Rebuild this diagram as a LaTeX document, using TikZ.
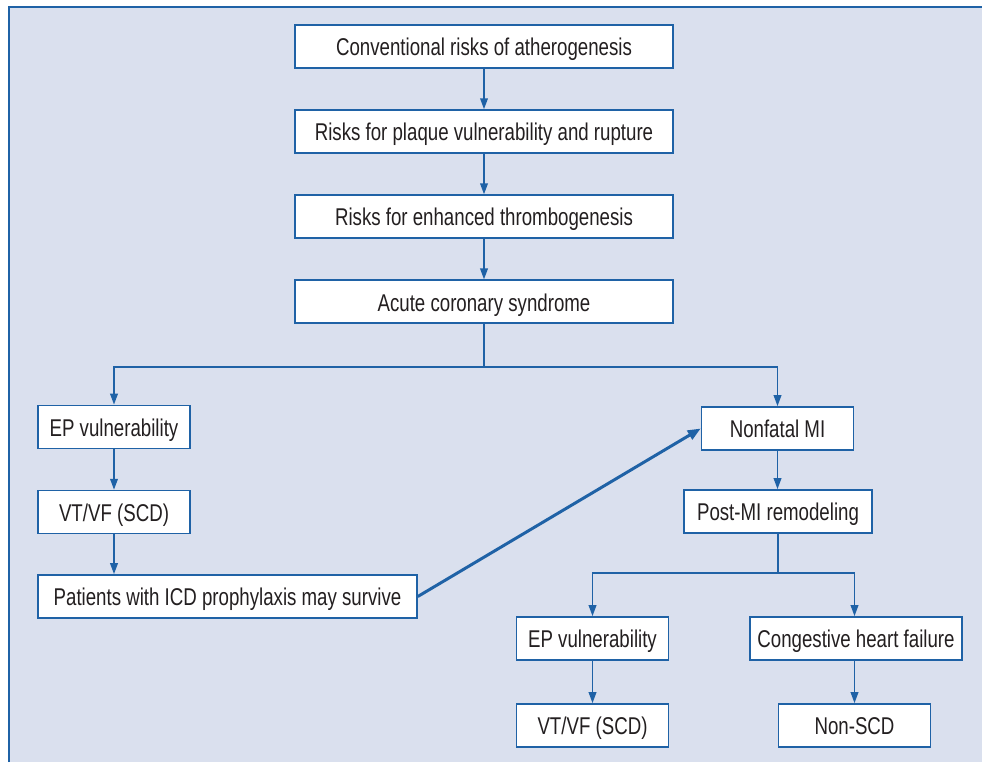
\documentclass[tikz,border=0pt]{standalone}
\usepackage{fontspec}
\setmainfont[FakeStretch=0.77]{Liberation Sans}
\usetikzlibrary{arrows.meta,positioning,calc}

\definecolor{panelblue}{HTML}{DAE0EE}
\definecolor{lineblue}{HTML}{1F62A6}
\definecolor{textgray}{HTML}{231F20}

\begin{document}
\begin{tikzpicture}[
    node distance=8.1mm,
    every node/.style={
        font=\fontsize{13.8}{15}\selectfont,
        text=textgray,
        text height=10.6pt,
        text depth=0pt,
        align=center
    },
    mainbox/.style={
        draw=lineblue,
        fill=white,
        line width=0.9pt,
        minimum width=7.56cm,
        minimum height=0.86cm,
        inner sep=3pt
    },
    stepbox/.style={
        draw=lineblue,
        fill=white,
        line width=0.9pt,
        minimum width=3.04cm,
        minimum height=0.86cm,
        inner sep=3pt
    },
    connector/.style={
        draw=lineblue,
        line width=1.1pt
    },
    arrow/.style={
        connector,
        -{Triangle[length=2.2mm,width=1.5mm]}
    },
    bigarrow/.style={
        draw=lineblue,
        line width=1.7pt,
        -{Triangle[length=2.6mm,width=2mm]}
    }
]

% ============================================================
% Panel
% ============================================================

\useasboundingbox (0,0) rectangle (19.64,-15.24);
\fill[panelblue] (0.18,-0.14) rectangle (19.64,-15.24);
\draw[lineblue, line width=1.2pt] (0.18,-15.24) |- (19.64,-0.14);

% ============================================================
% Main chain
% ============================================================

\node[mainbox] (conv) at (9.68,-0.93)
{Conventional risks of atherogenesis};

\node[mainbox, below=of conv] (plaque)
{Risks for plaque vulnerability and rupture};

\node[mainbox, below=of plaque] (thromb)
{Risks for enhanced thrombogenesis};

\node[mainbox, below=of thromb] (acute)
{Acute coronary syndrome};

\draw[arrow] (conv.south) -- (plaque.north);
\draw[arrow] (plaque.south) -- (thromb.north);
\draw[arrow] (thromb.south) -- (acute.north);

% ============================================================
% Left branch
% ============================================================

\node[stepbox] (epleft) at (2.28,-8.54)
{EP vulnerability};

\node[stepbox, below=of epleft] (vtleft)
{VT/VF (SCD)};

\node[mainbox, minimum width=7.58cm] (survive) at (4.55,-11.93)
{Patients with ICD prophylaxis may survive};

\draw[arrow] (epleft.south) -- (vtleft.north);
\draw[arrow] (vtleft.south) -- (vtleft.south |- survive.north);

% ============================================================
% Right branch
% ============================================================

\node[stepbox] (nonfatal) at (15.55,-8.57)
{Nonfatal MI};

\node[stepbox, minimum width=3.76cm] (postmi) at (15.56,-10.23)
{Post-MI remodeling};

\node[stepbox] (epright) at (11.85,-12.77)
{EP vulnerability};

\node[stepbox, minimum width=4.24cm] (chf) at (17.12,-12.77)
{Congestive heart failure};

\node[stepbox] (vtright) at (11.85,-14.51)
{VT/VF (SCD)};

\node[stepbox] (nonscd) at (17.09,-14.51)
{Non-SCD};

\draw[arrow] (nonfatal.south) -- (nonfatal.south |- postmi.north);
\draw[arrow] (epright.south) -- (vtright.north);
\draw[arrow] (nonscd.north |- chf.south) -- (nonscd.north);

% Split below acute coronary syndrome
\coordinate (acutejunction) at ($(acute.south)+(0,-0.86)$);

\draw[connector] (acute.south) -- (acutejunction);
\draw[arrow] (acutejunction) -| (epleft.north);
\draw[arrow] (acutejunction) -| (nonfatal.north);

% Split below post-MI remodeling
\coordinate (postjunction) at ($(postmi.south)+(0,-0.78)$);

\draw[connector] (postmi.south) -- (postjunction);
\draw[arrow] (postjunction) -| (epright.north);
\draw[arrow] (postjunction) -| (nonscd.north |- chf.north);

% Survivors go on to nonfatal MI
\draw[bigarrow] (survive.east) -- (nonfatal.west);

\end{tikzpicture}
\end{document}
